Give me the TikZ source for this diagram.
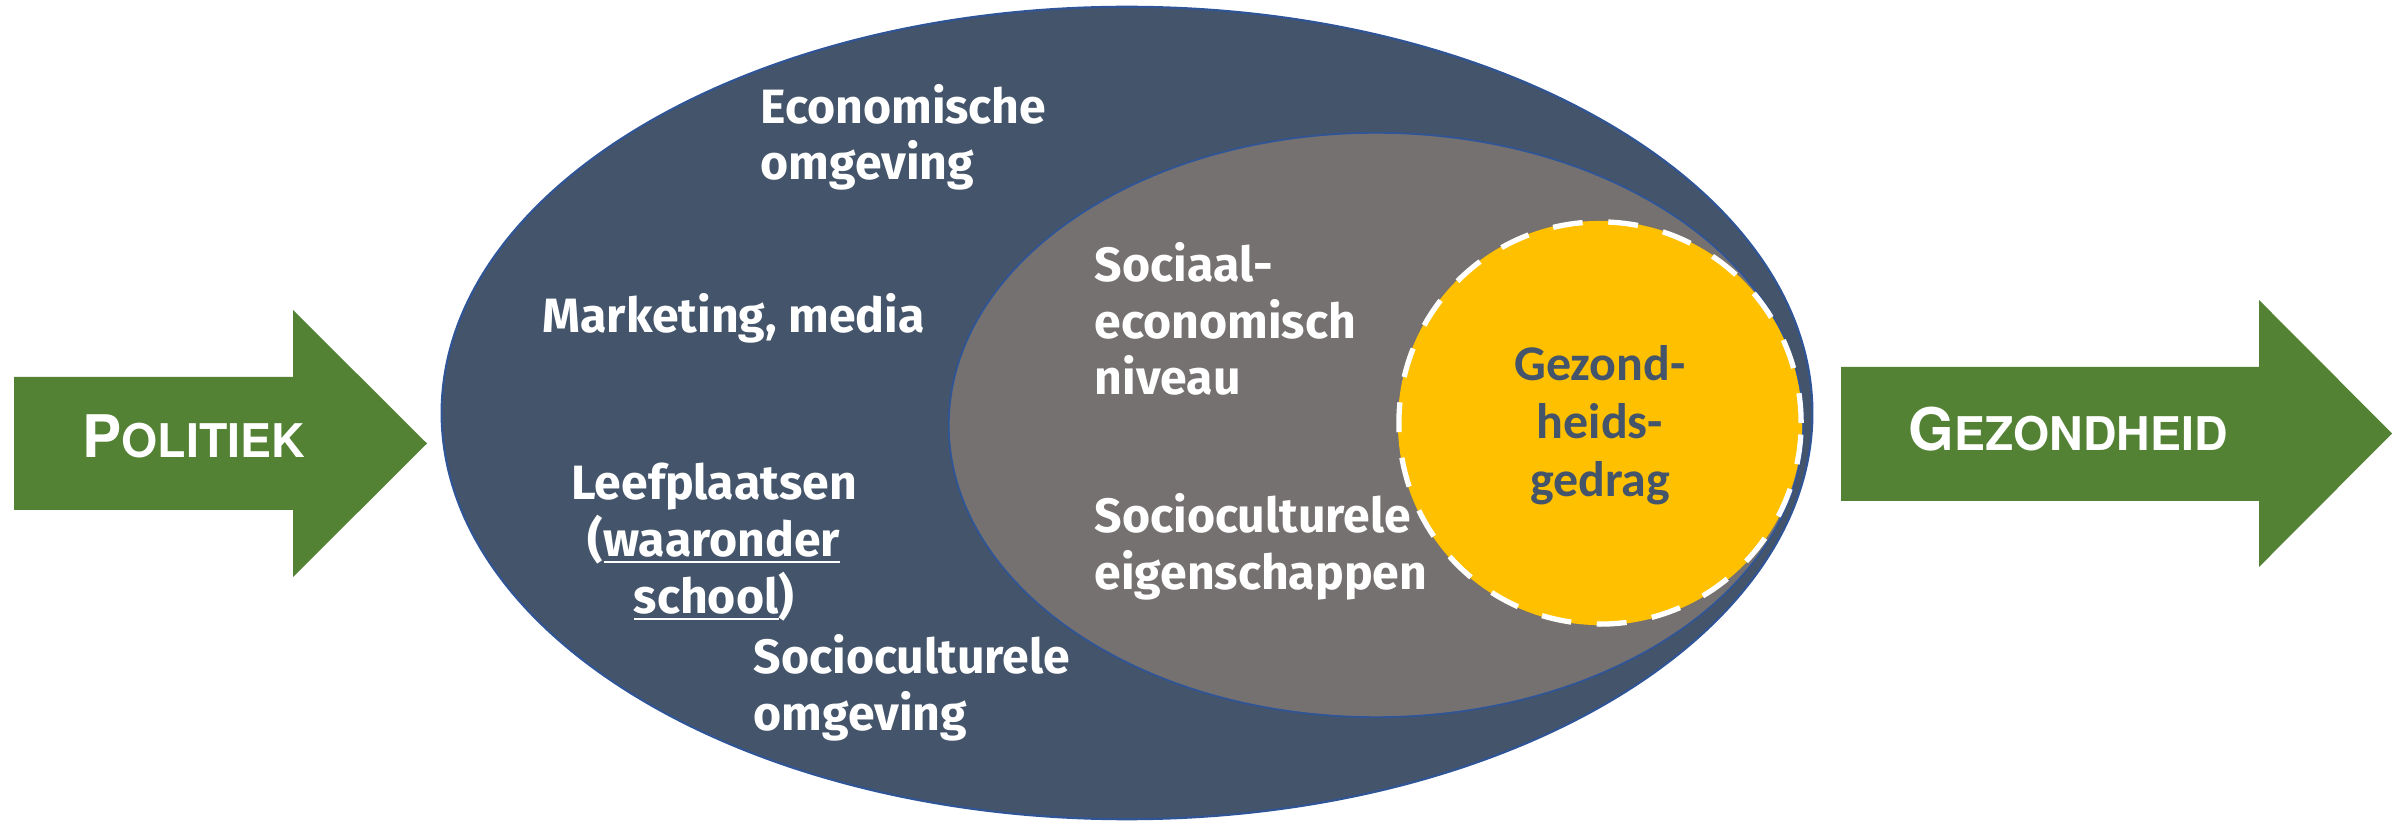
\documentclass[tikz,border=0pt]{standalone}
\usepackage{fontspec}
\setmainfont{Fira Sans}
\newfontfamily\calib{Carlito}
\newfontfamily\arialb{TeX Gyre Heros}
\definecolor{navy}{HTML}{44546A}
\definecolor{grayc}{HTML}{767171}
\definecolor{yell}{HTML}{FFC000}
\definecolor{grn}{HTML}{548235}
\definecolor{edgeblue}{HTML}{2F5597}
\newcommand\myul[1]{\setbox0\hbox{#1}\rlap{\vrule height -1.3pt depth 1.9pt width \wd0}\box0}
\begin{document}
\begin{tikzpicture}[x=0.01cm,y=-0.01cm,
  lbl/.style={text=white,font=\bfseries\fontsize{13.7}{16.2}\selectfont,inner sep=0pt,align=left,anchor=base west},
  lblc/.style={lbl,align=center,anchor=base},
  core/.style={text=navy,font=\calib\bfseries\fontsize{14.2}{16.5}\selectfont,inner sep=0pt,align=center,anchor=base},
  arrowtxt/.style={text=white,font=\arialb\bfseries,inner sep=0pt,anchor=base west}]
\useasboundingbox (0,0) rectangle (2392,825);
% arrows
\fill[grn] (14,377) -- (293,377) -- (293,310) -- (427,443.5) -- (293,577) -- (293,510) -- (14,510) -- cycle;
\fill[grn] (1841,367) -- (2259,367) -- (2259,300) -- (2392,433.5) -- (2259,567) -- (2259,501) -- (1841,501) -- cycle;
% ellipses
\filldraw[fill=navy,draw=edgeblue,line width=0.6pt] (1127,413) ellipse [x radius=6.85cm,y radius=4.06cm];
\filldraw[fill=grayc,draw=edgeblue,line width=0.5pt] (1376,425) ellipse [x radius=4.27cm,y radius=2.92cm];
\fill[yell] (1600,423) circle [radius=2.02cm];
\draw[white,line width=1.5pt,dash pattern=on 8.5pt off 7.3pt] (1600,423) circle [radius=2.01cm];
% texts (multi-line nodes are anchored at the baseline of their last line)
\node[arrowtxt] (pol) at (82,458) {\fontsize{16.7}{18}\selectfont\bfseries P\fontsize{13.2}{15}\selectfont\bfseries OLITIEK};
\node[arrowtxt] (gez) at (1908,451) {\fontsize{16.7}{18}\selectfont\bfseries G\fontsize{13.2}{15}\selectfont\bfseries EZONDHEID};
\node[lbl] (eco) at (760,180) {Economische\\omgeving};
\node[lbl] (mkt) at (542,333) {Marketing, media};
\node[lblc] (leef) at (714,613) {Leefplaatsen\\(\myul{waaronder}\\\myul{school})};
\node[lbl] (soc) at (753,730) {Socioculturele\\omgeving};
\node[lbl] (ses) at (1094,395) {Sociaal-\\economisch\\niveau};
\node[lbl] (sce) at (1094,589) {Socioculturele\\eigenschappen};
\node[core] (gg) at (1600,497) {Gezond-\\heids-\\gedrag};
\end{tikzpicture}
\end{document}
